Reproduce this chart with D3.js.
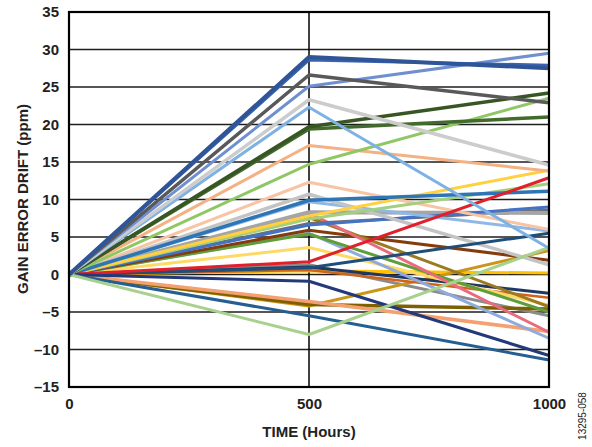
<!DOCTYPE html>
<html><head><meta charset="utf-8">
<script src="https://cdn.jsdelivr.net/npm/d3@7"></script>
<style>body{margin:0;background:#fff}svg{display:block}text{font-family:"Liberation Sans",Arial,sans-serif}</style>
</head><body>
<svg id="c" width="592" height="447"></svg>
<script>
const times = [0, 500, 1000];
const yTicks = [-15, -10, -5, 0, 5, 10, 15, 20, 25, 30, 35];
const xTicks = [0, 500, 1000];
// each device: drift at 0, 500, 1000 hours
const seriesValues = [
  [0, 1.3, -5.5],
  [0, 0.5, 0.2],
  [0, -4.2, 3.2],
  [0, -4.0, -4.6],
  [0, -3.6, -7.6],
  [0, 0.6, -3.1],
  [0, 1.0, -2.5],
  [0, 3.6, -4.1],
  [0, 5.5, -8.5],
  [0, 5.4, -5.0],
  [0, 5.9, 1.9],
  [0, 7.6, -4.3],
  [0, 8.2, -7.7],
  [0, 6.8, 8.6],
  [0, 8.3, 8.2],
  [0, 6.6, 9.0],
  [0, 9.7, 5.8],
  [0, 12.3, 6.0],
  [0, 10.7, 1.3],
  [0, 7.4, 12.1],
  [0, 7.8, 13.9],
  [0, 9.9, 11.1],
  [0, 0.9, 5.5],
  [0, 1.7, 12.9],
  [0, -0.9, -10.8],
  [0, -5.5, -11.4],
  [0, -8.0, 3.6],
  [0, 17.2, 13.8],
  [0, 14.7, 23.5],
  [0, 19.4, 21.0],
  [0, 19.7, 24.2],
  [0, 22.3, 3.5],
  [0, 23.3, 14.6],
  [0, 25.1, 29.5],
  [0, 26.6, 22.9],
  [0, 28.6, 27.9],
  [0, 29.0, 27.5]
];
const seriesColors = [
  "#8c8c8c", "#ffc000", "#c9961a", "#7f6000", "#f4a070", "#d0631a", "#203864", "#ffd966",
  "#8faadc", "#5f9e3a", "#843c0c", "#9c7a20", "#e96b7d", "#6f6f6f", "#a5a5a5", "#4472c4",
  "#8fb8e6", "#f8c4a4", "#c4c4c4", "#a3d07e", "#ffd040", "#2e75b6", "#1f4e79", "#e0202a",
  "#223a7a", "#255e91", "#a9d18e", "#f4b183", "#8fc764", "#426b2d", "#375623", "#7eb2e4",
  "#cccccc", "#6f8fd0", "#595959", "#3a62b0", "#2f5597"
];
const seriesWidths = [
  3, 3, 3, 3.5, 3.5, 2.5, 3, 3, 3, 3, 3, 3, 3, 3, 4, 3,
  3, 3, 3.5, 3, 3, 3.5, 3, 3, 3, 3, 3, 3, 3, 3.5, 3.5, 3,
  3.5, 3, 3.5, 3, 4
];

const svg = d3.select("#c");
const x = d3.scaleLinear().domain([0, 1000]).range([69, 549]);
const y = d3.scaleLinear().domain([-15, 35]).range([387, 12]);

// gridlines
svg.append("g").selectAll("line").data(yTicks.filter(v => v !== 35 && v !== -15)).join("line")
  .attr("x1", x(0)).attr("x2", x(1000))
  .attr("y1", d => y(d)).attr("y2", d => y(d))
  .attr("stroke", "#1e1e1e").attr("stroke-width", 1.4);
svg.append("line")
  .attr("x1", x(500)).attr("x2", x(500)).attr("y1", y(35)).attr("y2", y(-15))
  .attr("stroke", "#000").attr("stroke-width", 1.5);

// series
const line = d3.line().x((d, i) => x(times[i])).y(d => y(d));
svg.append("g").selectAll("path").data(seriesValues).join("path")
  .attr("d", d => line(d))
  .attr("fill", "none")
  .attr("stroke", (d, i) => seriesColors[i])
  .attr("stroke-width", (d, i) => seriesWidths[i])
  .attr("stroke-linejoin", "round");

// frame
svg.append("rect")
  .attr("x", x(0)).attr("y", y(35))
  .attr("width", x(1000) - x(0)).attr("height", y(-15) - y(35))
  .attr("fill", "none").attr("stroke", "#000").attr("stroke-width", 2.2);

// axes
const fmt = d => d < 0 ? "\u2013" + Math.abs(d) : String(d);
const yAxis = svg.append("g").attr("transform", `translate(${x(0)},0)`)
  .call(d3.axisLeft(y).tickValues(yTicks).tickSize(0).tickPadding(10).tickFormat(fmt));
yAxis.select(".domain").remove();
yAxis.selectAll("text").attr("font-size", 15).attr("font-weight", "bold").attr("fill", "#222")
  .attr("font-family", "Liberation Sans, Arial, sans-serif");

const xAxis = svg.append("g").attr("transform", `translate(0,${y(-15)})`)
  .call(d3.axisBottom(x).tickValues(xTicks).tickSize(0).tickPadding(11).tickFormat(d => String(d)));
xAxis.select(".domain").remove();
xAxis.selectAll("text").attr("font-size", 15).attr("font-weight", "bold").attr("fill", "#222")
  .attr("font-family", "Liberation Sans, Arial, sans-serif");

svg.append("text")
  .attr("x", 309).attr("y", 437).attr("text-anchor", "middle")
  .attr("font-size", 15).attr("font-weight", "bold").attr("fill", "#222")
  .text("TIME (Hours)");
svg.append("text")
  .attr("transform", "translate(28,199) rotate(-90)").attr("text-anchor", "middle")
  .attr("font-size", 15).attr("font-weight", "bold").attr("fill", "#222")
  .text("GAIN ERROR DRIFT (ppm)");
svg.append("text")
  .attr("transform", "translate(586,416) rotate(-90)").attr("text-anchor", "middle")
  .attr("font-size", 10).attr("fill", "#222")
  .text("13295-058");
</script>
</body></html>
